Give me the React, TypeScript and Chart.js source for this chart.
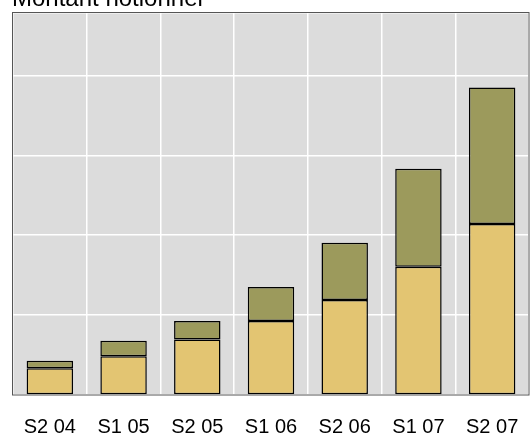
import React, { useEffect, useRef } from "react";
import { Chart, registerables } from "chart.js";

Chart.register(...registerables);

const categories = ["S2 04", "S1 05", "S2 05", "S1 06", "S2 06", "S1 07", "S2 07"];
const bottomSeries = [33.5, 48.5, 69.4, 92.7, 119, 160.6, 214];
const topSeries = [9.3, 19.3, 23.3, 42.5, 71.6, 122.4, 170.8];
const yTicksStep = 100;
const yMax = 478;
const titleText = "Montant notionnel";

const FONT = '"Liberation Sans", Arial, sans-serif';

const framePlugin = {
  id: "frame",
  beforeDraw(chart: any) {
    const { ctx, chartArea } = chart;
    ctx.save();
    ctx.fillStyle = "#DCDCDC";
    ctx.fillRect(chartArea.left, chartArea.top, chartArea.right - chartArea.left, chartArea.bottom - chartArea.top);
    ctx.restore();
  },
  afterDraw(chart: any) {
    const { ctx, chartArea } = chart;
    ctx.save();
    ctx.strokeStyle = "#555555";
    ctx.lineWidth = 1;
    ctx.strokeRect(chartArea.left - 0.5, chartArea.top - 0.5, chartArea.right - chartArea.left + 0.5, chartArea.bottom - chartArea.top + 0.5);
    ctx.fillStyle = "#000000";
    ctx.font = "24px " + FONT;
    ctx.textBaseline = "alphabetic";
    ctx.textAlign = "left";
    ctx.fillText(titleText, 12, 6);
    ctx.restore();
  },
};

export default function App() {
  const ref = useRef<HTMLCanvasElement | null>(null);
  useEffect(() => {
    if (!ref.current) return;
    const chart = new Chart(ref.current, {
      type: "bar",
      data: {
        labels: categories,
        datasets: [
          {
            label: "bas",
            data: bottomSeries,
            backgroundColor: "#E3C572",
            borderColor: "#000000",
            borderWidth: 1.5,
            borderSkipped: false,
            barPercentage: 0.63,
            categoryPercentage: 1,
          },
          {
            label: "haut",
            data: topSeries,
            backgroundColor: "#9C9A5C",
            borderColor: "#000000",
            borderWidth: 1.5,
            borderSkipped: false,
            barPercentage: 0.63,
            categoryPercentage: 1,
          },
        ],
      },
      options: {
        responsive: false,
        animation: false,
        layout: { padding: { left: 13, top: 13, right: 1, bottom: 0 } },
        plugins: { legend: { display: false }, tooltip: { enabled: false }, title: { display: false } },
        scales: {
          x: {
            stacked: true,
            grid: { color: "#FFFFFF", lineWidth: 1.5, drawTicks: false, offset: true },
            border: { display: false },
            ticks: { color: "#000000", font: { family: FONT, size: 20 }, padding: 20, maxRotation: 0 },
            afterFit: (s: any) => {
              s.height = 40;
              s.paddingLeft = 0;
              s.paddingRight = 0;
            },
          },
          y: {
            stacked: true,
            min: 0,
            max: yMax,
            grid: { color: "#FFFFFF", lineWidth: 1.5, drawTicks: false },
            border: { display: false },
            ticks: { display: false, stepSize: yTicksStep },
            afterFit: (s: any) => {
              s.width = 0;
              s.paddingTop = 0;
              s.paddingBottom = 0;
            },
          },
        },
      },
      plugins: [framePlugin],
    });
    return () => chart.destroy();
  }, []);
  return (
    <div style={{ position: "fixed", left: 0, top: 0, width: 530, height: 435, background: "#fff" }}>
      <canvas ref={ref} width={530} height={435} style={{ display: "block" }} />
    </div>
  );
}
